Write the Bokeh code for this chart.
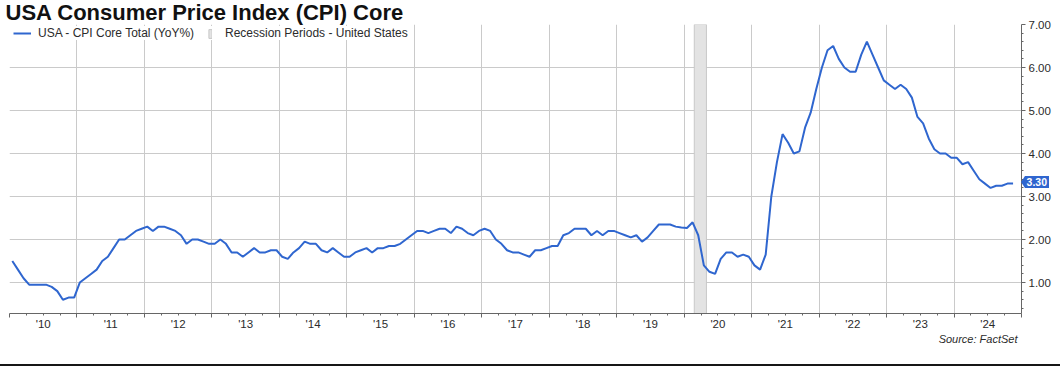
from bokeh.plotting import figure
from bokeh.layouts import column
from bokeh.models import (Range1d, LinearAxis, FixedTicker, Grid, Legend, LegendItem,
                          Title, NumeralTickFormatter, CustomJSTickFormatter,
                          ColumnDataSource, Div)
from bokeh.embed import file_html
from bokeh.resources import INLINE

# ---------------- text ----------------
title_text = "USA Consumer Price Index (CPI) Core"
series_label = "USA - CPI Core Total (YoY%)"
recession_label = "Recession Periods - United States"
source_text = "Source: FactSet"

# ---------------- data: monthly core CPI YoY %, Jan 2010 - Nov 2024 ----------------
first_year = 2010
cpi_2010 = [1.5, 1.3, 1.1, 0.95, 0.95, 0.95, 0.95, 0.9, 0.8, 0.6, 0.65, 0.65]
cpi_2011 = [1.0, 1.1, 1.2, 1.3, 1.5, 1.6, 1.8, 2.0, 2.0, 2.1, 2.2, 2.25]
cpi_2012 = [2.3, 2.2, 2.3, 2.3, 2.25, 2.2, 2.1, 1.9, 2.0, 2.0, 1.95, 1.9]
cpi_2013 = [1.9, 2.0, 1.9, 1.7, 1.7, 1.6, 1.7, 1.8, 1.7, 1.7, 1.75, 1.75]
cpi_2014 = [1.6, 1.55, 1.7, 1.8, 1.95, 1.9, 1.9, 1.75, 1.7, 1.8, 1.7, 1.6]
cpi_2015 = [1.6, 1.7, 1.75, 1.8, 1.7, 1.8, 1.8, 1.85, 1.85, 1.9, 2.0, 2.1]
cpi_2016 = [2.2, 2.2, 2.15, 2.2, 2.25, 2.25, 2.15, 2.3, 2.25, 2.15, 2.1, 2.2]
cpi_2017 = [2.25, 2.2, 2.0, 1.9, 1.75, 1.7, 1.7, 1.65, 1.6, 1.75, 1.75, 1.8]
cpi_2018 = [1.85, 1.85, 2.1, 2.15, 2.25, 2.25, 2.25, 2.1, 2.2, 2.1, 2.2, 2.2]
cpi_2019 = [2.15, 2.1, 2.05, 2.1, 1.95, 2.05, 2.2, 2.35, 2.35, 2.35, 2.3, 2.28]
cpi_2020 = [2.27, 2.4, 2.1, 1.4, 1.25, 1.2, 1.55, 1.7, 1.7, 1.6, 1.65, 1.6]
cpi_2021 = [1.4, 1.3, 1.65, 3.0, 3.8, 4.45, 4.25, 4.0, 4.05, 4.6, 4.95, 5.5]
cpi_2022 = [6.0, 6.4, 6.5, 6.2, 6.0, 5.9, 5.9, 6.3, 6.6, 6.3, 6.0, 5.7]
cpi_2023 = [5.6, 5.5, 5.6, 5.5, 5.3, 4.85, 4.7, 4.35, 4.1, 4.0, 4.0, 3.9]
cpi_2024 = [3.9, 3.75, 3.8, 3.6, 3.4, 3.3, 3.2, 3.25, 3.25, 3.3, 3.3]

yearly = [cpi_2010, cpi_2011, cpi_2012, cpi_2013, cpi_2014, cpi_2015, cpi_2016,
          cpi_2017, cpi_2018, cpi_2019, cpi_2020, cpi_2021, cpi_2022, cpi_2023, cpi_2024]

# recession periods (decimal years)
recession_start = [2020.15]
recession_end = [2020.33]

# axis extents
x_start, x_end = 2010.0, 2025.0
y_start, y_end = 0.28, 7.0
y_major = [1, 2, 3, 4, 5, 6, 7]

# build the monthly series (mid-month positions)
xs, ys = [], []
for i, vals in enumerate(yearly):
    for m, v in enumerate(vals):
        xs.append(first_year + i + (m + 0.5) / 12.0)
        ys.append(v)
last_value = ys[-1]

# ---------------- styling ----------------
FONT = "Liberation Sans"
BLUE = "#2f66cf"
GRID = "#cacaca"
AXIS = "#666666"
TXT = "#2b2b2b"

FRAME_W, FRAME_H = 1012, 287
FRAME_LEFT = 9
TOP_PANEL = 32          # fixed height of the title panel
SHIFT = 8               # figure is pulled up so the frame starts at y=24
FRAME_TOP = TOP_PANEL - SHIFT

p = figure(frame_width=FRAME_W, frame_height=FRAME_H,
           x_range=Range1d(x_start, x_end), y_range=Range1d(y_start, y_end),
           x_axis_type=None, y_axis_location="right",
           toolbar_location=None, tools="", output_backend="svg",
           min_border_left=FRAME_LEFT, min_border_right=39, min_border_top=TOP_PANEL,
           min_border_bottom=53)
p.outline_line_color = None
p.background_fill_color = "white"
p.border_fill_color = "white"
p.styles = {"margin-top": "-%dpx" % SHIFT, "border-bottom": "2px solid #161616"}

# ---- title
p.title = Title(text=title_text, align="left", offset=-4, standoff=0,
                text_font=FONT, text_font_style="bold", text_font_size="22px",
                text_color="#111111", vertical_align="bottom")

# ---- right y axis
ya = p.yaxis[0]
ya.ticker = FixedTicker(ticks=y_major,
                        minor_ticks=[round(0.2 * k, 1) for k in range(2, 35) if k % 5])
ya.formatter = NumeralTickFormatter(format="0.00")
ya.axis_line_color = AXIS
ya.major_tick_line_color = AXIS
ya.minor_tick_line_color = AXIS
ya.major_tick_in = 0
ya.major_tick_out = 4
ya.minor_tick_in = 0
ya.minor_tick_out = 2
ya.major_label_standoff = 3
ya.major_label_text_font = FONT
ya.major_label_text_font_size = "11.5px"
ya.major_label_text_color = TXT

p.ygrid.ticker = FixedTicker(ticks=y_major)
p.ygrid.grid_line_color = GRID

# ---- bottom x axes: one for ticks (year boundaries + quarters), one for labels (mid-year)
year_bounds = list(range(2010, 2026))
quarters = [y + q / 4.0 for y in range(2010, 2025) for q in (1, 2, 3)]
x_tick_axis = LinearAxis(ticker=FixedTicker(ticks=year_bounds, minor_ticks=quarters),
                         formatter=CustomJSTickFormatter(code="return ''"))
x_tick_axis.axis_line_color = AXIS
x_tick_axis.major_tick_line_color = AXIS
x_tick_axis.minor_tick_line_color = AXIS
x_tick_axis.major_tick_in = 0
x_tick_axis.major_tick_out = 4
x_tick_axis.minor_tick_in = 0
x_tick_axis.minor_tick_out = 2
x_tick_axis.major_label_standoff = 0
x_tick_axis.major_label_text_font_size = "0px"
p.add_layout(x_tick_axis, "below")

x_label_axis = LinearAxis(ticker=FixedTicker(ticks=[y + 0.5 for y in range(2010, 2025)], minor_ticks=[]),
                          formatter=CustomJSTickFormatter(
                              code="var y = Math.floor(tick) % 100; return \"'\" + (y < 10 ? '0' + y : '' + y);"))
x_label_axis.axis_line_color = None
x_label_axis.major_tick_line_color = None
x_label_axis.major_tick_in = 0
x_label_axis.major_tick_out = 0
x_label_axis.major_label_standoff = 0
x_label_axis.major_label_text_font = FONT
x_label_axis.major_label_text_font_size = "11.5px"
x_label_axis.major_label_text_line_height = 0.8
x_label_axis.major_label_text_color = TXT
p.add_layout(x_label_axis, "below")

p.add_layout(Grid(dimension=0, ticker=FixedTicker(ticks=list(range(2011, 2025))),
                  grid_line_color=GRID))

# ---- recession band and series
rec_src = ColumnDataSource(dict(left=recession_start, right=recession_end,
                                bottom=[y_start] * len(recession_start),
                                top=[y_end] * len(recession_start)))
rec_r = p.quad(left="left", right="right", bottom="bottom", top="top", source=rec_src,
               fill_color="#e3e3e3", line_color="#c8c8c8", line_width=1)

line_src = ColumnDataSource(dict(x=xs, y=ys))
line_r = p.line("x", "y", source=line_src, line_color=BLUE, line_width=2)

# ---- legends (two, so each swatch has its own size)
common = dict(orientation="horizontal", padding=0, margin=0, spacing=0,
              border_line_color=None, background_fill_color="white",
              background_fill_alpha=1.0, label_text_font=FONT,
              label_text_font_size="12px", label_text_color=TXT, label_height=14)
leg1 = Legend(items=[LegendItem(label=series_label, renderers=[line_r])],
              location=(4, FRAME_H - 14), glyph_width=18, glyph_height=14,
              label_standoff=7, **common)
leg2 = Legend(items=[LegendItem(label=recession_label, renderers=[rec_r])],
              location=(199, FRAME_H - 14), glyph_width=4, glyph_height=11,
              label_standoff=13, **common)
p.add_layout(leg1)
p.add_layout(leg2)

# ---- source
p.add_layout(Title(text=source_text, align="right", text_font=FONT,
                   text_font_style="italic", text_font_size="11px",
                   text_line_height=1.0,
                   text_color=TXT, offset=4, standoff=0, vertical_align="top"), "below")

# ---- last value tag on the right axis (HTML overlay, positioned with the y scale)
TAG_H = 12
tag_top = FRAME_TOP + (y_end - last_value) / (y_end - y_start) * FRAME_H - TAG_H / 2.0
frame_right = FRAME_LEFT + FRAME_W
tag = Div(text="%.2f" % last_value, width=28, height=TAG_H, margin=0,
          styles={"position": "absolute", "left": "%dpx" % frame_right,
                  "top": "%.1fpx" % tag_top, "z-index": "10",
                  "background-color": BLUE, "color": "white",
                  "font-family": FONT, "font-size": "10.5px", "font-weight": "bold",
                  "line-height": "%dpx" % TAG_H, "text-align": "right",
                  "padding-right": "2px", "box-sizing": "border-box",
                  "clip-path": "polygon(0 50%, 4px 0, 100% 0, 100% 100%, 4px 100%)"})

layout = column(p, tag)
open("out.html", "w").write(file_html(layout, INLINE))
